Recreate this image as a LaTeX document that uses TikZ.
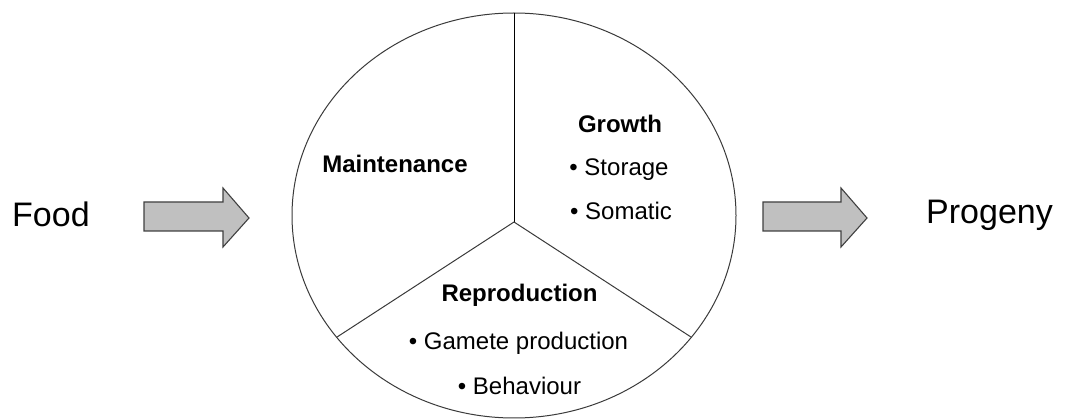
\documentclass[tikz,border=0pt]{standalone}
\usepackage{fontspec}
\setmainfont{Liberation Sans}
\definecolor{arrowfill}{HTML}{C0C0C0}
\definecolor{arrowline}{HTML}{404040}
\definecolor{circline}{HTML}{3A3A3A}
\tikzset{
  blockarrow/.style={fill=arrowfill, draw=arrowline, line width=1.1pt, line join=miter},
  divider/.style={draw=circline, line width=1pt},
  bigtxt/.style={inner sep=0pt, font=\fontsize{34}{40}\selectfont},
  headtxt/.style={inner sep=0pt, anchor=base, font=\fontsize{24}{28}\selectfont\bfseries},
  itemtxt/.style={inner sep=0pt, anchor=base, font=\fontsize{24}{28}\selectfont},
}
\begin{document}
\begin{tikzpicture}[x=1pt,y=-1pt]
\useasboundingbox (0,0) rectangle (1071,419);
% circle
\draw[divider] (514,215.5) ellipse [x radius=222pt, y radius=202.5pt];
\coordinate (top) at (514,13);
\coordinate (hub) at (514,222);
\coordinate (lend) at (336.6,337.3);
\coordinate (rend) at (691.4,337.3);
\draw[line width=1pt, black] (hub) -- (top);
\draw[divider] (hub) -- (lend);
\draw[divider] (hub) -- (rend);
% block arrows
\draw[blockarrow] (144,202) -- (223,202) -- (223,188) -- (249,218) -- (223,247) -- (223,231) -- (144,231) -- cycle;
\draw[blockarrow] (763,202) -- (841,202) -- (841,188) -- (867,218) -- (841,247) -- (841,231) -- (763,231) -- cycle;
% texts
\node[bigtxt, anchor=base west] (food) at (12,227) {Food};
\node[bigtxt, anchor=base west] (progeny) at (926,224) {Progeny};
\node[headtxt] (maint) at (395,173) {Maintenance};
\node[headtxt] (growth) at (620,133) {Growth};
\node[itemtxt] (storage) at (619,176) {• Storage};
\node[itemtxt] (somatic) at (621,220) {• Somatic};
\node[headtxt] (repro) at (519.5,302) {Reproduction};
\node[itemtxt] (gamete) at (518.5,350) {• Gamete production};
\node[itemtxt] (behav) at (519.5,395) {• Behaviour};
\end{tikzpicture}
\end{document}
